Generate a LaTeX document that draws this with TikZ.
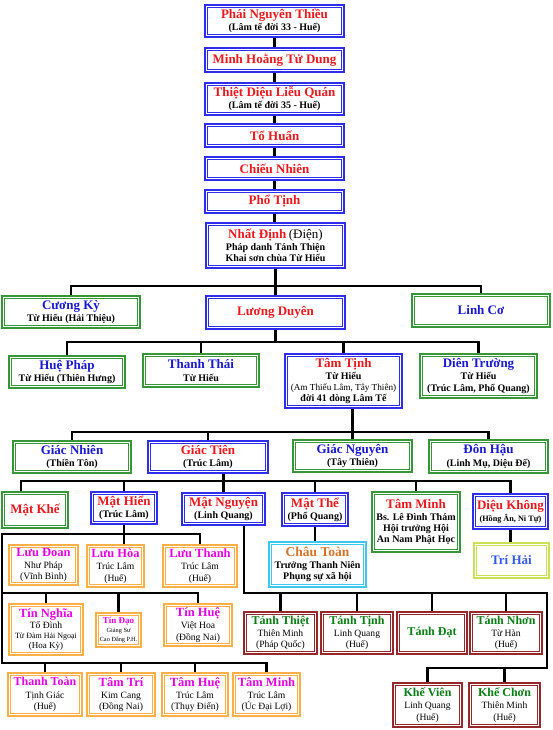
\documentclass[tikz,border=0pt]{standalone}
\usepackage{fontspec}
\setmainfont{Liberation Serif}
\definecolor{bBlue}{RGB}{45,45,235}
\definecolor{bGreen}{RGB}{55,150,55}
\definecolor{bRed}{RGB}{150,40,45}
\definecolor{bOrange}{RGB}{255,175,70}
\definecolor{bCyan}{RGB}{60,200,240}
\definecolor{bLime}{RGB}{200,225,85}
\definecolor{tRed}{RGB}{235,25,30}
\definecolor{tBlue}{RGB}{25,25,210}
\definecolor{tMag}{RGB}{230,0,230}
\definecolor{tGreen}{RGB}{10,125,20}
\definecolor{tOrange}{RGB}{215,115,40}
\definecolor{tLBlue}{RGB}{50,90,230}
\pgfdeclarelayer{bg}
\pgfsetlayers{bg,main}
\newcommand{\ttl}[3][13]{{\fontsize{#1}{#1}\selectfont\bfseries\color{#2}#3}}
\newcommand{\subB}[2][10]{{\fontsize{#1}{#1}\selectfont\bfseries #2}}
\newcommand{\subN}[2][9.6]{{\fontsize{#1}{#1}\selectfont #2}}
\tikzset{
  bx/.style={draw=#1, line width=1.8pt, fill=white, inner sep=0pt, align=center,
    font=\fontsize{10}{11.2}\selectfont,
    path picture={\draw[#1, line width=0.8pt]
      ([shift={(2.4pt,2.4pt)}]path picture bounding box.south west) rectangle
      ([shift={(-2.4pt,-2.4pt)}]path picture bounding box.north east);}},
  link/.style={line width=2.8pt, black, line join=miter},
}
\newcommand{\Bx}[7]{\node[bx=#2, minimum width={(#5)-(#3)}, minimum height={(#6)-(#4)}]
  (#1) at ({((#3)+(#5))/2},{((#4)+(#6))/2}) {#7};}
\begin{document}
\begin{tikzpicture}[x=1pt,y=-1pt]
\useasboundingbox (0,0) rectangle (553,730);
% top chain
\Bx{pnt}{bBlue}{205}{5}{344}{37}{\ttl{tRed}{Phái Nguyên Thiều}\\[1pt]\subB{(Lâm tế đời 33 - Huế)}}
\Bx{mhtd}{bBlue}{205}{48}{344}{72}{\ttl{tRed}{Minh Hoằng Tử Dung}}
\Bx{tdlq}{bBlue}{205}{83}{344}{115}{\ttl{tRed}{Thiệt Diệu Liễu Quán}\\[1pt]\subB{(Lâm tế đời 35 - Huế)}}
\Bx{th}{bBlue}{205}{124}{344}{147}{\ttl{tRed}{Tổ Huấn}}
\Bx{cn}{bBlue}{205}{157}{344}{180}{\ttl{tRed}{Chiếu Nhiên}}
\Bx{pt}{bBlue}{205}{190}{344}{213}{\ttl{tRed}{Phổ Tịnh}}
\Bx{nd}{bBlue}{206}{223}{345}{268}{\ttl{tRed}{Nhất Định} {\fontsize{13}{13}\selectfont(Điện)}\\[1pt]\subB{Pháp danh Tánh Thiện}\\\subB{Khai sơn chùa Từ Hiếu}}
% row 1
\Bx{ck}{bGreen}{2}{296}{140}{328}{\ttl{tBlue}{Cương Kỳ}\\[1pt]\subB{Từ Hiếu (Hải Thiệu)}}
\Bx{ld}{bBlue}{206}{296}{345}{329}{\ttl{tRed}{Lương Duyên}}
\Bx{lc}{bGreen}{412}{294}{550}{327}{\ttl{tBlue}{Linh Cơ}}
% row 2
\Bx{hp}{bGreen}{9}{356}{125}{388}{\ttl{tBlue}{Huệ Pháp}\\[1pt]\subB{Từ Hiếu (Thiên Hưng)}}
\Bx{tt}{bGreen}{143}{354}{259}{387}{\ttl{tBlue}{Thanh Thái}\\[1pt]\subB{Từ Hiếu}}
\Bx{tti}{bBlue}{285}{354}{402}{408}{\ttl{tRed}{Tâm Tịnh}\\[1pt]\subB{Từ Hiếu}\\\subN[9.2]{(Am Thiếu Lâm, Tây Thiên)}\\\subB{đời 41 dòng Lâm Tế}}
\Bx{dt}{bGreen}{420}{354}{537}{398}{\ttl{tBlue}{Diên Trường}\\[1pt]\subB{Từ Hiếu}\\\subB{(Trúc Lâm, Phổ Quang)}}
% row 3
\Bx{gn}{bGreen}{13}{441}{131}{473}{\ttl{tBlue}{Giác Nhiên}\\[1pt]\subB{(Thiền Tôn)}}
\Bx{gt}{bBlue}{148}{441}{268}{473}{\ttl{tRed}{Giác Tiên}\\[1pt]\subB{(Trúc Lâm)}}
\Bx{gng}{bGreen}{293}{440}{412}{472}{\ttl{tBlue}{Giác Nguyên}\\[1pt]\subB{(Tây Thiên)}}
\Bx{dh}{bGreen}{429}{440}{548}{473}{\ttl{tBlue}{Đôn Hậu}\\[1pt]\subB{(Linh Mụ, Diệu Đế)}}
% row 4
\Bx{mk}{bGreen}{2}{492}{68}{528}{\ttl{tRed}{Mật Khế}}
\Bx{mh}{bBlue}{91}{492}{157}{524}{\ttl{tRed}{Mật Hiển}\\[1pt]\subB{(Trúc Lâm)}}
\Bx{mng}{bBlue}{182}{493}{265}{525}{\ttl{tRed}{Mật Nguyện}\\[1pt]\subB{(Linh Quang)}}
\Bx{mt}{bBlue}{282}{493}{348}{526}{\ttl{tRed}{Mật Thể}\\[1pt]\subB{(Phổ Quang)}}
\Bx{tm}{bGreen}{372}{492}{460}{552}{\ttl{tRed}{Tâm Minh}\\[1pt]\subB{Bs. Lê Đình Thám}\\\subB{Hội trưởng Hội}\\\subB{An Nam Phật Học}}
\Bx{dk}{bBlue}{473}{494}{548}{529}{\ttl{tRed}{Diệu Không}\\[1pt]\subB[8.2]{(Hồng Ân, Ni Tự)}}
\Bx{ct}{bCyan}{269}{542}{366}{587}{\ttl[13.5]{tOrange}{Châu Toàn}\\[1pt]\subB{Trưởng Thanh Niên}\\\subB{Phụng sự xã hội}}
\Bx{trh}{bLime}{474}{543}{549}{578}{\ttl{tLBlue}{Trí Hải}}
% Luu row
\Bx{ldo}{bOrange}{9}{545}{78}{585}{\ttl[12.5]{tMag}{Lưu Đoan}\\[1pt]\subN{Như Pháp}\\\subN{(Vĩnh Bình)}}
\Bx{lh}{bOrange}{87}{545}{144}{587}{\ttl[12.5]{tMag}{Lưu Hòa}\\[1pt]\subN{Trúc Lâm}\\\subN{(Huế)}}
\Bx{lt}{bOrange}{163}{545}{237}{587}{\ttl[12.5]{tMag}{Lưu Thanh}\\[1pt]\subN{Trúc Lâm}\\\subN{(Huế)}}
% Tin row
\Bx{tn}{bOrange}{9}{604}{83}{655}{\ttl[12.5]{tMag}{Tín Nghĩa}\\[0pt]\subN{Tổ Đình}\\[-1.5pt]\subN[8]{Từ Đàm Hải Ngoại}\\[-1.5pt]\subN[9]{(Hoa Kỳ)}}
\Bx{td}{bOrange}{96}{613}{141}{647}{\ttl[9]{tMag}{Tín Đạo}\\[-2pt]\subN[6.3]{Giảng Sư}\\[-3pt]\subN[6.3]{Cao Đẳng P.H.}}
\Bx{tih}{bOrange}{164}{604}{232}{646}{\ttl[12.5]{tMag}{Tín Huệ}\\[1pt]\subN{Việt Hoa}\\\subN{(Đồng Nai)}}
% bottom-left row
\Bx{tto}{bOrange}{8}{673}{82}{716}{\ttl[12]{tMag}{Thanh Toàn}\\[1pt]\subN{Tịnh Giác}\\\subN{(Huế)}}
\Bx{ttr}{bOrange}{87}{673}{155}{716}{\ttl[12.5]{tMag}{Tâm Trí}\\[1pt]\subN{Kim Cang}\\\subN{(Đồng Nai)}}
\Bx{thu}{bOrange}{162}{673}{228}{716}{\ttl[12.5]{tMag}{Tâm Huệ}\\[1pt]\subN{Trúc Lâm}\\\subN{(Thụy Điển)}}
\Bx{tmb}{bOrange}{233}{673}{300}{716}{\ttl[12.5]{tMag}{Tâm Minh}\\[1pt]\subN{Trúc Lâm}\\\subN{(Úc Đại Lợi)}}
% Tanh row
\Bx{tht}{bRed}{244}{612}{317}{654}{\ttl[12]{tGreen}{Tánh Thiệt}\\[1pt]\subN{Thiên Minh}\\\subN{(Pháp Quốc)}}
\Bx{tti2}{bRed}{321}{612}{393}{654}{\ttl[12]{tGreen}{Tánh Tịnh}\\[1pt]\subN{Linh Quang}\\\subN{(Huế)}}
\Bx{tda}{bRed}{397}{612}{467}{654}{\ttl[12]{tGreen}{Tánh Đạt}}
\Bx{tnh}{bRed}{470}{612}{542}{654}{\ttl[12]{tGreen}{Tánh Nhơn}\\[1pt]\subN{Từ Hàn}\\\subN{(Huế)}}
% Khe row
\Bx{kv}{bRed}{393}{683}{462}{727}{\ttl[12]{tGreen}{Khế Viên}\\[1pt]\subN{Linh Quang}\\\subN{(Huế)}}
\Bx{kc}{bRed}{469}{683}{540}{727}{\ttl[12]{tGreen}{Khế Chơn}\\[1pt]\subN{Thiên Minh}\\\subN{(Huế)}}
% bus coordinates
\coordinate (b1) at (0,286);
\coordinate (b2) at (0,342);
\coordinate (b3) at (0,432);
\coordinate (b4) at (0,481);
\coordinate (mkx) at (21,481);
\coordinate (lx) at (2,534);
\coordinate (lb) at (2,663);
\coordinate (b6) at (0,593);
\coordinate (mnx) at (244,593);
\coordinate (rc1) at (547,593);
\coordinate (rc2) at (547,668);
\begin{pgfonlayer}{bg}
\draw[link] (pnt.south) -- (mhtd.north);
\draw[link] (mhtd.south) -- (tdlq.north);
\draw[link] (tdlq.south) -- (th.north);
\draw[link] (th.south) -- (cn.north);
\draw[link] (cn.south) -- (pt.north);
\draw[link] (pt.south) -- (pt.south |- nd.north);
% bus 1
\draw[link] (nd.south) -- (nd.south |- b1);
\draw[link] (ck.north) -- (ck.north |- b1) -- (lc.north |- b1) -- (lc.north);
\draw[link] (ld.north |- b1) -- (ld.north);
% bus 2
\draw[link] (ld.south) -- (ld.south |- b2);
\draw[link] (hp.north) -- (hp.north |- b2) -- (dt.north |- b2) -- (dt.north);
\draw[link] (tt.north |- b2) -- (tt.north);
\draw[link] (tti.north |- b2) -- (tti.north);
% bus 3
\draw[link] (gng.north |- tti.south) -- (gng.north);
\draw[link] (gn.north) -- (gn.north |- b3) -- (dh.north |- b3) -- (dh.north);
\draw[link] (gt.north |- b3) -- (gt.north);
% bus 4
\draw[link] (mng.north |- gt.south) -- (mng.north);
\draw[link] (mkx |- mk.north) -- (mkx) -- (dk.north |- b4) -- (dk.north);
\draw[link] (mh.north |- b4) -- (mh.north);
\draw[link] (mt.north |- b4) -- (mt.north);
\draw[link] (tm.north |- b4) -- (tm.north);
\draw[link] (mt.south) -- (mt.south |- ct.north);
\draw[link] (dk.south) -- (dk.south |- trh.north);
% left buses
\draw[link] (mh.south) -- (mh.south |- lh.north);
\draw[link] (lt.north) -- (lt.north |- lx) -- (lx) -- (lb) -- (tmb.north |- lb) -- (tmb.north);
\draw[link] (lx |- b6) -- (tih.north |- b6) -- (tih.north);
\draw[link] (tn.north |- b6) -- (tn.north);
\draw[link] (td.north |- b6) -- (td.north);
\draw[link] (tto.north |- lb) -- (tto.north);
\draw[link] (ttr.north |- lb) -- (ttr.north);
\draw[link] (thu.north |- lb) -- (thu.north);
% right buses
\draw[link] (mnx |- mng.south) -- (mnx) -- (rc1) -- (rc2) -- (kv.north |- rc2) -- (kv.north);
\draw[link] (tht.north |- b6) -- (tht.north);
\draw[link] (tti2.north |- b6) -- (tti2.north);
\draw[link] (tda.north |- b6) -- (tda.north);
\draw[link] (tnh.north |- b6) -- (tnh.north);
\draw[link] (kc.north |- rc2) -- (kc.north);
\end{pgfonlayer}
\end{tikzpicture}
\end{document}
